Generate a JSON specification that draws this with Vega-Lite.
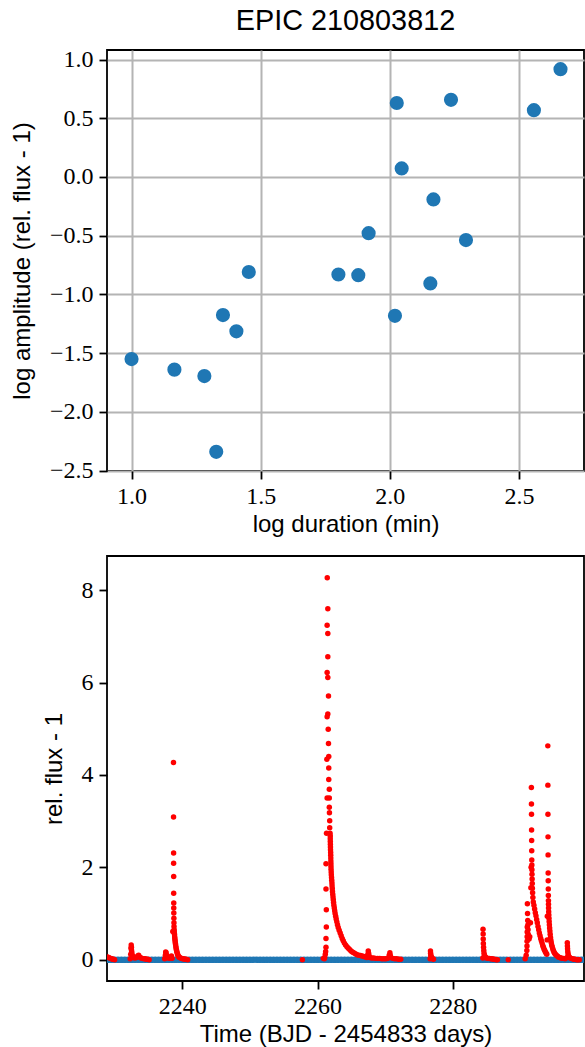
{
  "$schema": "https://vega.github.io/schema/vega-lite/v6.json",
  "padding": {"left": 9, "top": 5, "right": 0, "bottom": 0},
  "spacing": 18,
  "datasets": {
    "pts": [
      {"d": 1.0, "a": -1.55}, {"d": 1.166, "a": -1.64}, {"d": 1.282, "a": -1.695}, {"d": 1.328, "a": -2.34},
      {"d": 1.354, "a": -1.176}, {"d": 1.406, "a": -1.314}, {"d": 1.454, "a": -0.809}, {"d": 1.801, "a": -0.83},
      {"d": 1.878, "a": -0.836}, {"d": 1.918, "a": -0.478}, {"d": 2.027, "a": 0.63}, {"d": 2.02, "a": -1.182},
      {"d": 2.046, "a": 0.073}, {"d": 2.169, "a": -0.191}, {"d": 2.157, "a": -0.906}, {"d": 2.237, "a": 0.657},
      {"d": 2.295, "a": -0.537}, {"d": 2.558, "a": 0.569}, {"d": 2.661, "a": 0.918}
    ],
    "quiet": [
      {"t":2229.0,"f":0},{"t":2229.5,"f":0},{"t":2230.0,"f":0},{"t":2230.5,"f":0},{"t":2231.0,"f":0},{"t":2231.5,"f":0},{"t":2232.0,"f":0},{"t":2232.5,"f":0},{"t":2233.0,"f":0},{"t":2233.5,"f":0},
      {"t":2234.0,"f":0},{"t":2234.5,"f":0},{"t":2235.0,"f":0},{"t":2235.5,"f":0},{"t":2236.0,"f":0},{"t":2236.5,"f":0},{"t":2237.0,"f":0},{"t":2237.5,"f":0},{"t":2238.0,"f":0},{"t":2238.5,"f":0},
      {"t":2239.0,"f":0},{"t":2239.5,"f":0},{"t":2240.0,"f":0},{"t":2240.5,"f":0},{"t":2241.0,"f":0},{"t":2241.5,"f":0},{"t":2242.0,"f":0},{"t":2242.5,"f":0},{"t":2243.0,"f":0},{"t":2243.5,"f":0},
      {"t":2244.0,"f":0},{"t":2244.5,"f":0},{"t":2245.0,"f":0},{"t":2245.5,"f":0},{"t":2246.0,"f":0},{"t":2246.5,"f":0},{"t":2247.0,"f":0},{"t":2247.5,"f":0},{"t":2248.0,"f":0},{"t":2248.5,"f":0},
      {"t":2249.0,"f":0},{"t":2249.5,"f":0},{"t":2250.0,"f":0},{"t":2250.5,"f":0},{"t":2251.0,"f":0},{"t":2251.5,"f":0},{"t":2252.0,"f":0},{"t":2252.5,"f":0},{"t":2253.0,"f":0},{"t":2253.5,"f":0},
      {"t":2254.0,"f":0},{"t":2254.5,"f":0},{"t":2255.0,"f":0},{"t":2255.5,"f":0},{"t":2256.0,"f":0},{"t":2256.5,"f":0},{"t":2257.0,"f":0},{"t":2257.5,"f":0},{"t":2258.0,"f":0},{"t":2258.5,"f":0},
      {"t":2259.0,"f":0},{"t":2259.5,"f":0},{"t":2260.0,"f":0},{"t":2260.5,"f":0},{"t":2261.0,"f":0},{"t":2261.5,"f":0},{"t":2262.0,"f":0},{"t":2262.5,"f":0},{"t":2263.0,"f":0},{"t":2263.5,"f":0},
      {"t":2264.0,"f":0},{"t":2264.5,"f":0},{"t":2265.0,"f":0},{"t":2265.5,"f":0},{"t":2266.0,"f":0},{"t":2266.5,"f":0},{"t":2267.0,"f":0},{"t":2267.5,"f":0},{"t":2268.0,"f":0},{"t":2268.5,"f":0},
      {"t":2269.0,"f":0},{"t":2269.5,"f":0},{"t":2270.0,"f":0},{"t":2270.5,"f":0},{"t":2271.0,"f":0},{"t":2271.5,"f":0},{"t":2272.0,"f":0},{"t":2272.5,"f":0},{"t":2273.0,"f":0},{"t":2273.5,"f":0},
      {"t":2274.0,"f":0},{"t":2274.5,"f":0},{"t":2275.0,"f":0},{"t":2275.5,"f":0},{"t":2276.0,"f":0},{"t":2276.5,"f":0},{"t":2277.0,"f":0},{"t":2277.5,"f":0},{"t":2278.0,"f":0},{"t":2278.5,"f":0},
      {"t":2279.0,"f":0},{"t":2279.5,"f":0},{"t":2280.0,"f":0},{"t":2280.5,"f":0},{"t":2281.0,"f":0},{"t":2281.5,"f":0},{"t":2282.0,"f":0},{"t":2282.5,"f":0},{"t":2283.0,"f":0},{"t":2283.5,"f":0},
      {"t":2284.0,"f":0},{"t":2284.5,"f":0},{"t":2285.0,"f":0},{"t":2285.5,"f":0},{"t":2286.0,"f":0},{"t":2286.5,"f":0},{"t":2287.0,"f":0},{"t":2287.5,"f":0},{"t":2288.0,"f":0},{"t":2288.5,"f":0},
      {"t":2289.0,"f":0},{"t":2289.5,"f":0},{"t":2290.0,"f":0},{"t":2290.5,"f":0},{"t":2291.0,"f":0},{"t":2291.5,"f":0},{"t":2292.0,"f":0},{"t":2292.5,"f":0},{"t":2293.0,"f":0},{"t":2293.5,"f":0},
      {"t":2294.0,"f":0},{"t":2294.5,"f":0},{"t":2295.0,"f":0},{"t":2295.5,"f":0},{"t":2296.0,"f":0},{"t":2296.5,"f":0},{"t":2297.0,"f":0},{"t":2297.5,"f":0},{"t":2298.0,"f":0},{"t":2298.5,"f":0},
      {"t":2299.0,"f":0},{"t":2299.5,"f":0}
    ],
    "flare": [
      {"t":2228.95,"f":0.06},{"t":2229.1,"f":0.05},{"t":2229.25,"f":0.04},{"t":2229.4,"f":0.03},{"t":2229.55,"f":0.02},{"t":2229.7,"f":0.01},{"t":2229.85,"f":0.01},{"t":2230.0,"f":0.0},
      {"t":2232.3,"f":0.02},{"t":2232.38,"f":0.12},{"t":2232.42,"f":0.25},{"t":2232.45,"f":0.32},{"t":2232.48,"f":0.27},{"t":2232.5,"f":0.2},{"t":2232.55,"f":0.15},{"t":2232.6,"f":0.1},
      {"t":2232.7,"f":0.07},{"t":2232.85,"f":0.05},{"t":2233.0,"f":0.04},{"t":2233.2,"f":0.05},{"t":2233.4,"f":0.08},{"t":2233.55,"f":0.1},{"t":2233.7,"f":0.06},{"t":2233.9,"f":0.04},
      {"t":2234.1,"f":0.03},{"t":2234.3,"f":0.02},{"t":2234.5,"f":0.02},{"t":2234.7,"f":0.01},{"t":2234.9,"f":0.01},{"t":2235.1,"f":0.0},
      {"t":2237.4,"f":0.02},{"t":2237.5,"f":0.1},{"t":2237.55,"f":0.17},{"t":2237.6,"f":0.15},{"t":2237.7,"f":0.1},{"t":2237.8,"f":0.06},{"t":2237.95,"f":0.04},{"t":2238.1,"f":0.03},
      {"t":2238.25,"f":0.04},{"t":2238.4,"f":0.08},{"t":2238.5,"f":0.03},
      {"t":2238.6,"f":0.61},{"t":2238.7,"f":4.27},{"t":2238.71,"f":3.09},{"t":2238.72,"f":2.31},{"t":2238.72,"f":2.09},{"t":2238.73,"f":1.8},{"t":2238.73,"f":1.44},{"t":2238.74,"f":1.23},
      {"t":2238.74,"f":1.12},{"t":2238.75,"f":1.01},{"t":2238.76,"f":0.9},{"t":2238.77,"f":0.8},{"t":2238.78,"f":0.72},{"t":2238.8,"f":0.65},{"t":2238.82,"f":0.6},{"t":2238.85,"f":0.55},
      {"t":2238.88,"f":0.5},{"t":2238.9,"f":0.46},{"t":2238.93,"f":0.42},{"t":2238.96,"f":0.38},{"t":2239.0,"f":0.34},{"t":2239.04,"f":0.3},{"t":2239.08,"f":0.26},{"t":2239.12,"f":0.22},
      {"t":2239.17,"f":0.19},{"t":2239.22,"f":0.16},{"t":2239.28,"f":0.13},{"t":2239.35,"f":0.1},{"t":2239.42,"f":0.08},{"t":2239.5,"f":0.06},{"t":2239.6,"f":0.05},{"t":2239.75,"f":0.04},
      {"t":2239.9,"f":0.03},{"t":2240.05,"f":0.02},{"t":2240.2,"f":0.02},{"t":2240.4,"f":0.01},{"t":2240.6,"f":0.01},{"t":2240.8,"f":0.0},
      {"t":2257.76,"f":0.0},
      {"t":2260.86,"f":0.03},{"t":2261.0,"f":0.02},{"t":2261.06,"f":0.05},{"t":2261.15,"f":0.12},{"t":2261.2,"f":0.18},{"t":2261.25,"f":0.27},{"t":2261.25,"f":0.46},{"t":2261.3,"f":0.71},
      {"t":2261.3,"f":1.08},{"t":2261.25,"f":1.53},{"t":2261.25,"f":2.08},{"t":2261.33,"f":2.74},{"t":2261.42,"f":3.5},{"t":2261.38,"f":4.34},{"t":2261.42,"f":5.26},{"t":2261.42,"f":6.22},
      {"t":2261.42,"f":7.24},{"t":2261.44,"f":8.27},
      {"t":2261.52,"f":7.6},{"t":2261.52,"f":7.06},{"t":2261.52,"f":6.56},{"t":2261.52,"f":6.11},{"t":2261.62,"f":5.71},{"t":2261.52,"f":5.32},{"t":2261.58,"f":4.99},{"t":2261.62,"f":4.68},
      {"t":2261.66,"f":4.4},{"t":2261.66,"f":4.15},{"t":2261.66,"f":3.9},{"t":2261.74,"f":3.69},{"t":2261.74,"f":3.5},{"t":2261.74,"f":3.3},{"t":2261.76,"f":3.18},{"t":2261.8,"f":3.01},
      {"t":2261.8,"f":2.86},{"t":2261.85,"f":2.74},
      {"t":2261.88,"f":2.68},{"t":2261.88,"f":2.62},{"t":2261.89,"f":2.56},{"t":2261.9,"f":2.5},{"t":2261.91,"f":2.44},{"t":2261.92,"f":2.38},{"t":2261.94,"f":2.32},{"t":2261.95,"f":2.26},
      {"t":2261.96,"f":2.2},{"t":2261.97,"f":2.14},{"t":2261.98,"f":2.08},{"t":2261.99,"f":2.02},{"t":2262.0,"f":1.96},{"t":2262.02,"f":1.9},{"t":2262.04,"f":1.84},{"t":2262.07,"f":1.78},
      {"t":2262.1,"f":1.72},{"t":2262.13,"f":1.66},{"t":2262.15,"f":1.6},{"t":2262.18,"f":1.54},{"t":2262.21,"f":1.48},{"t":2262.25,"f":1.42},{"t":2262.29,"f":1.36},{"t":2262.33,"f":1.3},
      {"t":2262.37,"f":1.24},{"t":2262.42,"f":1.18},{"t":2262.48,"f":1.12},{"t":2262.54,"f":1.06},{"t":2262.6,"f":1.0},{"t":2262.68,"f":0.94},{"t":2262.76,"f":0.88},{"t":2262.85,"f":0.82},
      {"t":2262.95,"f":0.76},{"t":2263.06,"f":0.7},{"t":2263.2,"f":0.64},{"t":2263.35,"f":0.58},{"t":2263.5,"f":0.52},{"t":2263.65,"f":0.46},{"t":2263.8,"f":0.41},{"t":2263.97,"f":0.36},
      {"t":2264.15,"f":0.32},{"t":2264.35,"f":0.28},{"t":2264.55,"f":0.25},{"t":2264.75,"f":0.22},{"t":2264.95,"f":0.19},{"t":2265.15,"f":0.17},{"t":2265.35,"f":0.15},{"t":2265.6,"f":0.13},
      {"t":2265.85,"f":0.11},{"t":2266.1,"f":0.1},{"t":2266.35,"f":0.09},{"t":2266.6,"f":0.08},{"t":2266.85,"f":0.07},{"t":2267.1,"f":0.06},
      {"t":2267.3,"f":0.05},{"t":2267.45,"f":0.12},{"t":2267.5,"f":0.19},{"t":2267.55,"f":0.14},{"t":2267.6,"f":0.09},{"t":2267.75,"f":0.05},{"t":2268.0,"f":0.04},{"t":2268.3,"f":0.04},
      {"t":2268.6,"f":0.03},{"t":2268.9,"f":0.03},{"t":2269.2,"f":0.03},{"t":2269.5,"f":0.02},{"t":2269.8,"f":0.02},{"t":2270.1,"f":0.02},{"t":2270.4,"f":0.03},{"t":2270.6,"f":0.1},
      {"t":2270.7,"f":0.15},{"t":2270.75,"f":0.1},{"t":2270.85,"f":0.05},{"t":2271.1,"f":0.03},{"t":2271.4,"f":0.02},{"t":2271.7,"f":0.02},{"t":2272.0,"f":0.01},{"t":2272.3,"f":0.01},
      {"t":2276.65,"f":0.02},{"t":2276.7,"f":0.19},{"t":2276.72,"f":0.14},{"t":2276.75,"f":0.1},{"t":2276.8,"f":0.07},{"t":2276.85,"f":0.05},{"t":2276.95,"f":0.03},{"t":2277.05,"f":0.02},{"t":2277.15,"f":0.01},
      {"t":2284.45,"f":0.04},{"t":2284.47,"f":0.66},{"t":2284.49,"f":0.56},{"t":2284.5,"f":0.45},{"t":2284.52,"f":0.35},{"t":2284.55,"f":0.27},{"t":2284.58,"f":0.2},{"t":2284.62,"f":0.14},
      {"t":2284.68,"f":0.1},{"t":2284.75,"f":0.07},{"t":2284.85,"f":0.05},{"t":2285.0,"f":0.04},{"t":2285.2,"f":0.03},{"t":2285.4,"f":0.03},{"t":2285.6,"f":0.02},{"t":2285.8,"f":0.02},
      {"t":2286.0,"f":0.01},{"t":2286.2,"f":0.01},{"t":2286.4,"f":0.0},{"t":2286.6,"f":0.0},
      {"t":2288.2,"f":0.0},
      {"t":2290.7,"f":0.02},{"t":2290.85,"f":0.1},{"t":2290.95,"f":0.2},{"t":2290.97,"f":0.3},{"t":2290.98,"f":0.4},{"t":2290.99,"f":0.5},{"t":2291.0,"f":0.6},{"t":2291.01,"f":0.71},
      {"t":2291.03,"f":1.21},{"t":2291.05,"f":1.0},{"t":2291.08,"f":0.85},{"t":2291.1,"f":0.75},{"t":2291.13,"f":0.65},{"t":2291.16,"f":0.55},{"t":2291.2,"f":0.48},{"t":2291.28,"f":0.45},
      {"t":2291.38,"f":0.5},{"t":2291.48,"f":0.8},{"t":2291.55,"f":1.56},{"t":2291.58,"f":2.0},{"t":2291.62,"f":3.73},{"t":2291.63,"f":3.37},{"t":2291.64,"f":3.15},{"t":2291.65,"f":2.81},
      {"t":2291.66,"f":2.58},{"t":2291.67,"f":2.36},{"t":2291.68,"f":2.16},{"t":2291.69,"f":2.05},{"t":2291.7,"f":1.95},{"t":2291.71,"f":1.85},{"t":2291.73,"f":1.75},{"t":2291.75,"f":1.65},
      {"t":2291.77,"f":1.55},{"t":2291.8,"f":1.45},{"t":2291.84,"f":1.35},{"t":2291.9,"f":1.25},{"t":2292.0,"f":1.18},{"t":2292.1,"f":1.1},{"t":2292.2,"f":1.02},{"t":2292.3,"f":0.95},
      {"t":2292.4,"f":0.87},{"t":2292.5,"f":0.8},{"t":2292.6,"f":0.72},{"t":2292.7,"f":0.65},{"t":2292.8,"f":0.58},{"t":2292.9,"f":0.52},{"t":2293.0,"f":0.46},{"t":2293.1,"f":0.41},
      {"t":2293.2,"f":0.36},{"t":2293.3,"f":0.31},{"t":2293.4,"f":0.27},{"t":2293.5,"f":0.23},{"t":2293.6,"f":0.2},{"t":2293.7,"f":0.17},{"t":2293.8,"f":0.14},{"t":2293.9,"f":0.12},
      {"t":2293.95,"f":0.43},{"t":2293.98,"f":0.94},{"t":2294.05,"f":4.63},{"t":2294.06,"f":3.78},{"t":2294.07,"f":3.15},{"t":2294.08,"f":2.66},{"t":2294.09,"f":2.27},{"t":2294.1,"f":1.88},
      {"t":2294.11,"f":1.71},{"t":2294.12,"f":1.53},{"t":2294.13,"f":1.39},{"t":2294.14,"f":1.28},{"t":2294.15,"f":1.2},{"t":2294.16,"f":1.12},{"t":2294.18,"f":1.04},{"t":2294.2,"f":0.97},
      {"t":2294.22,"f":0.9},{"t":2294.25,"f":0.83},{"t":2294.28,"f":0.76},{"t":2294.32,"f":0.69},{"t":2294.36,"f":0.62},{"t":2294.4,"f":0.55},{"t":2294.45,"f":0.48},{"t":2294.5,"f":0.42},
      {"t":2294.56,"f":0.37},{"t":2294.62,"f":0.32},{"t":2294.7,"f":0.28},{"t":2294.78,"f":0.24},{"t":2294.87,"f":0.2},{"t":2294.96,"f":0.17},{"t":2295.06,"f":0.14},{"t":2295.17,"f":0.12},
      {"t":2295.3,"f":0.1},{"t":2295.45,"f":0.08},{"t":2295.6,"f":0.06},{"t":2295.8,"f":0.05},{"t":2296.0,"f":0.04},{"t":2296.2,"f":0.03},{"t":2296.4,"f":0.03},{"t":2296.6,"f":0.02},
      {"t":2296.9,"f":0.05},{"t":2296.93,"f":0.37},{"t":2296.95,"f":0.3},{"t":2296.97,"f":0.24},{"t":2297.0,"f":0.18},{"t":2297.04,"f":0.13},{"t":2297.1,"f":0.09},{"t":2297.2,"f":0.06},
      {"t":2297.35,"f":0.04},{"t":2297.5,"f":0.03},{"t":2297.7,"f":0.02},{"t":2297.9,"f":0.01},{"t":2298.1,"f":0.01},{"t":2298.3,"f":0.0},{"t":2298.5,"f":0.0},{"t":2298.7,"f":0.0}
    ]
  },
  "config": {
    "font": "Liberation Sans",
    "view": {"stroke": "black", "strokeWidth": 1.8},
    "axis": {
      "domain": false, "tickColor": "black", "tickWidth": 1.8, "tickSize": 8,
      "labelFont": "Liberation Serif", "labelFontSize": 24, "labelColor": "black",
      "labelFlush": false, "labelOverlap": false,
      "titleFont": "Liberation Sans", "titleFontSize": 24, "titleFontWeight": "normal", "titleColor": "black",
      "gridColor": "#b4b4b4", "gridWidth": 2
    },
    "axisX": {"labelPadding": 5, "titlePadding": 4},
    "axisY": {"labelPadding": 6, "titlePadding": 15},
    "title": {"font": "Liberation Sans", "fontSize": 28.8, "fontWeight": "normal", "color": "black"}
  },
  "vconcat": [
    {
      "title": {"text": "EPIC 210803812", "anchor": "middle", "offset": 12},
      "width": 477, "height": 421,
      "data": {"name": "pts"},
      "mark": {"type": "circle", "size": 200, "opacity": 1, "color": "#1f77b4"},
      "encoding": {
        "x": {"field": "d", "type": "quantitative",
          "scale": {"domain": [0.905, 2.752], "nice": false, "zero": false},
          "axis": {"values": [1.0, 1.5, 2.0, 2.5], "format": ".1f", "title": "log duration (min)", "grid": true}},
        "y": {"field": "a", "type": "quantitative",
          "scale": {"domain": [-2.503, 1.081], "nice": false, "zero": false},
          "axis": {"values": [-2.5, -2.0, -1.5, -1.0, -0.5, 0.0, 0.5, 1.0], "format": ".1f", "title": "log amplitude (rel. flux - 1)", "grid": true}}
      }
    },
    {
      "width": 477, "height": 425,
      "encoding": {
        "x": {"field": "t", "type": "quantitative",
          "scale": {"domain": [2228.87, 2299.4], "nice": false, "zero": false},
          "axis": {"values": [2240, 2260, 2280], "format": "d", "title": "Time (BJD - 2454833 days)", "grid": false}},
        "y": {"field": "f", "type": "quantitative",
          "scale": {"domain": [-0.46, 8.74], "nice": false, "zero": false},
          "axis": {"values": [0, 2, 4, 6, 8], "format": "d", "title": "rel. flux - 1", "grid": false}}
      },
      "layer": [
        {"data": {"name": "quiet"}, "mark": {"type": "circle", "size": 45, "opacity": 1, "color": "#1f77b4", "clip": true}},
        {"data": {"name": "flare"}, "mark": {"type": "circle", "size": 30, "opacity": 1, "color": "#ff0000", "clip": true}}
      ]
    }
  ]
}
